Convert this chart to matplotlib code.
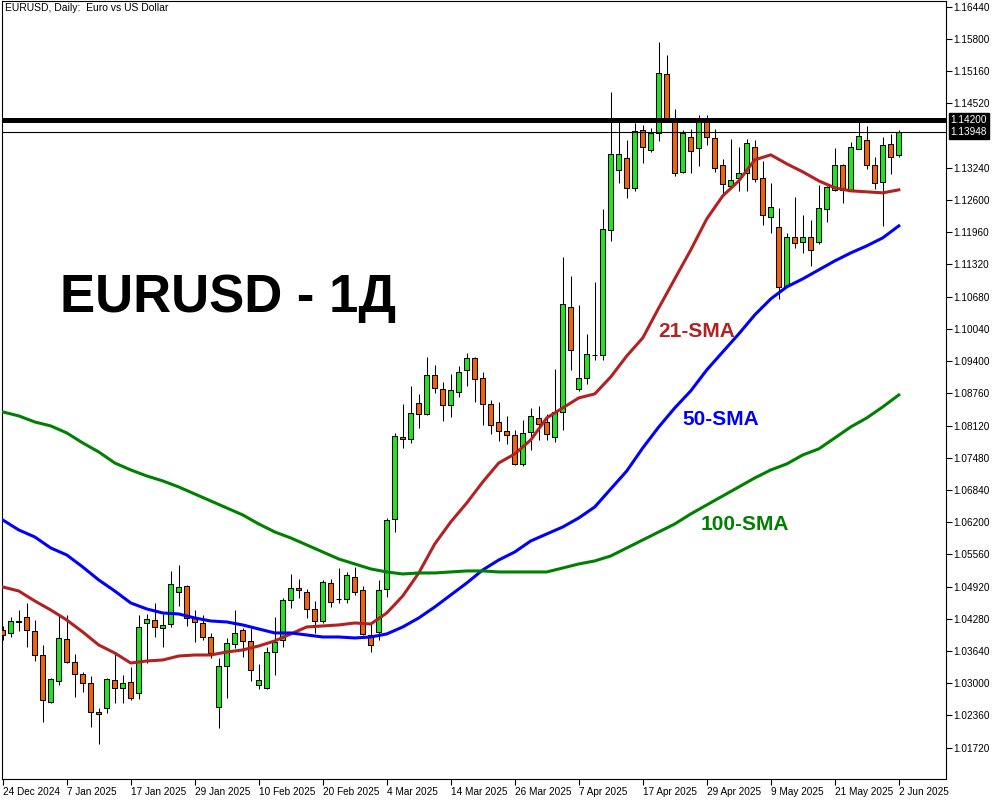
import matplotlib
matplotlib.use('Agg')
import matplotlib.pyplot as plt
import numpy as np

plt.rcParams['font.family'] = ['Liberation Sans', 'DejaVu Sans']

# Daily EURUSD bars, 24 Dec 2024 .. 2 Jun 2025
opens = [
    1.04057, 1.03998, 1.04236, 1.04316, 1.04037, 1.03560, 1.02626, 1.03043, 1.03878, 1.03421,
    1.03183, 1.03004, 1.02427, 1.02507, 1.03063, 1.02904, 1.03024, 1.02805, 1.04196, 1.04256,
    1.04097, 1.04176, 1.04812, 1.04932, 1.04296, 1.04196, 1.03918, 1.02527, 1.03342, 1.03779,
    1.04057, 1.03839, 1.02964, 1.02904, 1.03620, 1.03858, 1.04653, 1.04892, 1.04812, 1.04475,
    1.04236, 1.04991, 1.04673, 1.04673, 1.05111, 1.04852, 1.03958, 1.04017, 1.04872, 1.06263,
    1.07893, 1.07853, 1.08569, 1.08350, 1.09126, 1.08847, 1.08529, 1.08788, 1.09225, 1.09464,
    1.09066, 1.08549, 1.08191, 1.08012, 1.07933, 1.07357, 1.07993, 1.08271, 1.08191, 1.07893,
    1.08390, 1.10477, 1.08847, 1.09066, 1.09523, 1.09523, 1.12008, 1.13200, 1.13439, 1.12842,
    1.13995, 1.13598, 1.13936, 1.15108, 1.14194, 1.13160, 1.13856, 1.13637, 1.14194, 1.13836,
    1.13300, 1.12882, 1.13041, 1.13141, 1.13657, 1.13041, 1.12266, 1.12067, 1.10894, 1.11868,
    1.11769, 1.11868, 1.11769, 1.12425, 1.12803, 1.13300, 1.12783, 1.13618, 1.13796, 1.13300,
    1.12962, 1.13717, 1.13498,
]
highs = [
    1.04137, 1.04316, 1.04455, 1.04594, 1.04256, 1.03759, 1.03103, 1.04375, 1.04355, 1.03580,
    1.03222, 1.03143, 1.02507, 1.03103, 1.03580, 1.03163, 1.03322, 1.04355, 1.04375, 1.04594,
    1.04375, 1.05230, 1.05349, 1.04952, 1.04455, 1.04355, 1.03998, 1.03501, 1.03898, 1.04455,
    1.04097, 1.04097, 1.03381, 1.03719, 1.04316, 1.04693, 1.05170, 1.05071, 1.04872, 1.04634,
    1.05051, 1.05071, 1.05289, 1.05210, 1.05309, 1.04932, 1.04216, 1.05051, 1.06283, 1.07973,
    1.08549, 1.08907, 1.08748, 1.09483, 1.09324, 1.08986, 1.09145, 1.09304, 1.09563, 1.09474,
    1.09185, 1.08629, 1.08589, 1.08311, 1.08032, 1.08231, 1.08471, 1.08509, 1.08350, 1.09245,
    1.11471, 1.11093, 1.10517, 1.09940, 1.10974, 1.12425, 1.14750, 1.14194, 1.13796, 1.14134,
    1.14095, 1.14035, 1.15744, 1.15486, 1.14413, 1.13995, 1.14015, 1.14293, 1.14293, 1.14015,
    1.13419, 1.13816, 1.13657, 1.13816, 1.13796, 1.13379, 1.12942, 1.12445, 1.11948, 1.12663,
    1.12306, 1.12206, 1.12902, 1.12872, 1.13637, 1.13310, 1.13757, 1.14174, 1.14075, 1.13459,
    1.13856, 1.13916, 1.13995,
]
lows = [
    1.03858, 1.03918, 1.04037, 1.03719, 1.03441, 1.02229, 1.02606, 1.02964, 1.03401, 1.02725,
    1.02825, 1.02129, 1.01791, 1.02407, 1.02606, 1.02606, 1.02666, 1.02686, 1.03401, 1.03918,
    1.03719, 1.04117, 1.04534, 1.04137, 1.03819, 1.03858, 1.03501, 1.02109, 1.02706, 1.03699,
    1.03521, 1.03043, 1.02884, 1.02894, 1.03163, 1.03719, 1.04494, 1.04693, 1.04296, 1.03998,
    1.04196, 1.04514, 1.04594, 1.04594, 1.04753, 1.03958, 1.03620, 1.03858, 1.04713, 1.06005,
    1.07675, 1.07774, 1.08072, 1.08331, 1.08768, 1.08211, 1.08291, 1.08688, 1.08907, 1.08589,
    1.08132, 1.07953, 1.07814, 1.07754, 1.07337, 1.07317, 1.07635, 1.07834, 1.07834, 1.07794,
    1.08032, 1.09225, 1.08808, 1.08947, 1.09424, 1.09424, 1.11789, 1.12942, 1.12644, 1.12783,
    1.13339, 1.13558, 1.13777, 1.14154, 1.13081, 1.13141, 1.13141, 1.13280, 1.13697, 1.13160,
    1.12683, 1.12822, 1.12783, 1.12783, 1.12962, 1.12107, 1.11948, 1.10636, 1.10865, 1.11650,
    1.11550, 1.11292, 1.11729, 1.12167, 1.12783, 1.12544, 1.12773, 1.13608, 1.13220, 1.12822,
    1.12087, 1.13121, 1.13459,
]
closes = [
    1.03958, 1.04236, 1.04216, 1.04057, 1.03560, 1.02666, 1.03083, 1.03898, 1.03421, 1.03183,
    1.03004, 1.02427, 1.02388, 1.03083, 1.02904, 1.03004, 1.02706, 1.04117, 1.04276, 1.04117,
    1.04157, 1.04971, 1.04912, 1.04296, 1.04216, 1.03918, 1.03600, 1.03342, 1.03799, 1.03998,
    1.03839, 1.03262, 1.03063, 1.03620, 1.03819, 1.04653, 1.04892, 1.04852, 1.04475, 1.04236,
    1.05011, 1.04614, 1.04663, 1.05150, 1.04812, 1.03978, 1.03759, 1.04852, 1.06244, 1.07913,
    1.07853, 1.08370, 1.08350, 1.09126, 1.08867, 1.08529, 1.08827, 1.09185, 1.09464, 1.09046,
    1.08549, 1.08132, 1.08012, 1.07933, 1.07357, 1.07973, 1.08311, 1.08152, 1.07953, 1.08390,
    1.10537, 1.09622, 1.09066, 1.09543, 1.09513, 1.12027, 1.13518, 1.13518, 1.12842, 1.13975,
    1.13657, 1.13936, 1.15128, 1.14194, 1.13141, 1.13936, 1.13578, 1.14194, 1.13856, 1.13240,
    1.12922, 1.13001, 1.13141, 1.13737, 1.13021, 1.12306, 1.12465, 1.10875, 1.11868, 1.11749,
    1.11868, 1.11610, 1.12445, 1.12862, 1.13300, 1.12803, 1.13657, 1.13876, 1.13300, 1.12942,
    1.13697, 1.13459, 1.13948,
]

# moving averages, one value every 2nd bar
sma21 = [1.04912, 1.04832, 1.04634, 1.04455, 1.04256, 1.04017, 1.03759, 1.03600, 1.03401, 1.03441,
         1.03461, 1.03540, 1.03560, 1.03560, 1.03620, 1.03660, 1.03739, 1.03839, 1.03978, 1.04117,
         1.04137, 1.04157, 1.04196, 1.04176, 1.04395, 1.04733, 1.05190, 1.05767, 1.06204, 1.06581,
         1.06999, 1.07376, 1.07555, 1.07834, 1.08271, 1.08470, 1.08668, 1.08748, 1.09086, 1.09503,
         1.09861, 1.10457, 1.11034, 1.11610, 1.12226, 1.12683, 1.12981, 1.13399, 1.13498, 1.13319,
         1.13160, 1.12981, 1.12842, 1.12783, 1.12763, 1.12743, 1.12803]
sma50 = [1.06244, 1.06045, 1.05906, 1.05687, 1.05548, 1.05309, 1.05051, 1.04832, 1.04594, 1.04475,
         1.04395, 1.04375, 1.04296, 1.04236, 1.04216, 1.04157, 1.04077, 1.03998, 1.03998, 1.03958,
         1.03918, 1.03918, 1.03898, 1.03918, 1.03978, 1.04117, 1.04296, 1.04514, 1.04753, 1.04991,
         1.05250, 1.05448, 1.05607, 1.05826, 1.05965, 1.06104, 1.06283, 1.06502, 1.06860, 1.07217,
         1.07675, 1.08092, 1.08470, 1.08808, 1.09225, 1.09583, 1.09940, 1.10318, 1.10636, 1.10875,
         1.11034, 1.11213, 1.11391, 1.11550, 1.11690, 1.11849, 1.12087]
sma100 = [1.08390, 1.08311, 1.08191, 1.08112, 1.07973, 1.07774, 1.07595, 1.07376, 1.07237, 1.07118,
          1.07019, 1.06899, 1.06760, 1.06621, 1.06482, 1.06343, 1.06164, 1.06005, 1.05886, 1.05747,
          1.05607, 1.05468, 1.05369, 1.05270, 1.05210, 1.05170, 1.05190, 1.05190, 1.05210, 1.05230,
          1.05230, 1.05210, 1.05210, 1.05210, 1.05210, 1.05289, 1.05369, 1.05429, 1.05528, 1.05687,
          1.05846, 1.06005, 1.06164, 1.06363, 1.06542, 1.06721, 1.06899, 1.07078, 1.07237, 1.07357,
          1.07535, 1.07655, 1.07873, 1.08092, 1.08271, 1.08490, 1.08728]

date_labels = ['24 Dec 2024', '7 Jan 2025', '17 Jan 2025', '29 Jan 2025', '10 Feb 2025',
               '20 Feb 2025', '4 Mar 2025', '14 Mar 2025', '26 Mar 2025', '7 Apr 2025',
               '17 Apr 2025', '29 Apr 2025', '9 May 2025', '21 May 2025', '2 Jun 2025']
price_ticks = [1.01720, 1.02360, 1.03000, 1.03640, 1.04280, 1.04920, 1.05560, 1.06200,
               1.06840, 1.07480, 1.08120, 1.08760, 1.09400, 1.10040, 1.10680, 1.11320,
               1.11960, 1.12600, 1.13240, 1.14520, 1.15160, 1.15800, 1.16440]
level = 1.14200
last_price = 1.13948

BULL = '#1ee61e'
BEAR = '#f5600a'

fig = plt.figure(figsize=(10, 8), dpi=100)
ax = fig.add_axes([0.002, 0.02625, 0.944, 0.97275])

x = np.arange(len(opens))
o = np.array(opens)
c = np.array(closes)

# candles
ax.vlines(x, lows, highs, color='black', lw=0.75, zorder=3)
body_bottom = np.minimum(o, c)
body_height = np.maximum(np.abs(c - o), 0.00002)
colors = [BULL if cc >= oo else BEAR for oo, cc in zip(o, c)]
ax.bar(x, body_height, bottom=body_bottom, width=0.62, color=colors,
       edgecolor='black', linewidth=0.75, zorder=4)

# moving averages
sx = np.arange(0, len(opens), 2)
ax.plot(sx, sma21, color='#b22222', lw=2.2, zorder=5)
ax.plot(sx, sma50, color='#0000ff', lw=2.2, zorder=5)
ax.plot(sx, sma100, color='#008000', lw=2.2, zorder=5)

# horizontal levels
ax.axhline(level, color='black', lw=3.6, zorder=6)
ax.axhline(last_price, color='black', lw=0.8, zorder=6)

ax.set_xlim(-0.09, 117.9)
ax.set_ylim(1.01096, 1.16559)

ax.yaxis.tick_right()
ax.set_yticks(price_ticks)
ax.set_yticklabels([f'{v:.5f}' for v in price_ticks])
ax.tick_params(axis='y', direction='out', length=4, width=0.8, pad=1.5, labelsize=7.2)

ax.set_xticks(np.arange(0, len(opens), 8))
ax.set_xticklabels(date_labels)
for t in ax.get_xticklabels():
    t.set_ha('left')
ax.tick_params(axis='x', direction='out', length=4, width=0.8, pad=2, labelsize=7.2)

for s in ax.spines.values():
    s.set_color('black')
    s.set_linewidth(0.8)

# price boxes on the axis
for val in (level, last_price):
    ax.text(1.005, val, f'{val:.5f}', transform=ax.get_yaxis_transform(),
            color='white', fontsize=7.2, va='center', ha='left', zorder=10,
            bbox=dict(boxstyle='square,pad=0.15', fc='black', ec='black'), clip_on=False)

ax.text(0.003, 0.997, 'EURUSD, Daily:  Euro vs US Dollar', transform=ax.transAxes,
        fontsize=7.5, va='top', ha='left')

ax.text(7.16, 1.10378, 'EURUSD - 1Д', fontsize=38, fontweight='bold', color='black',
        va='baseline', ha='left', zorder=7)
ax.text(81.9, 1.09881, '21-SMA', fontsize=15, fontweight='bold', color='#b22222',
        va='baseline', ha='left', zorder=7)
ax.text(85.0, 1.08132, '50-SMA', fontsize=15, fontweight='bold', color='#0000ff',
        va='baseline', ha='left', zorder=7)
ax.text(87.2, 1.06045, '100-SMA', fontsize=15, fontweight='bold', color='#008000',
        va='baseline', ha='left', zorder=7)

fig.savefig('out.png', dpi=100)
